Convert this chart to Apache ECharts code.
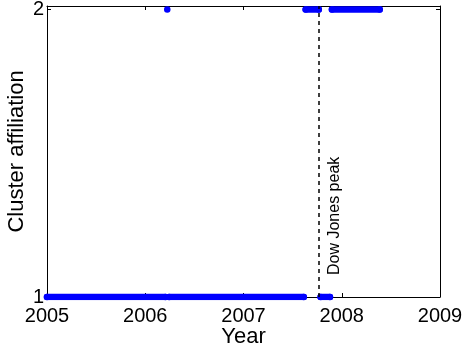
<!DOCTYPE html>
<html>
<head>
<meta charset="utf-8">
<script src="https://cdn.jsdelivr.net/npm/echarts@6/dist/echarts.min.js"></script>
<style>
  html, body { margin: 0; padding: 0; background: #fff; }
  #chart { width: 462px; height: 351px; }
</style>
</head>
<body>
<div id="chart"></div>
<script>
// Runs of consecutive weeks assigned to each cluster (decimal years)
const cluster1Starts = [2005.0, 2006.243, 2007.785];
const cluster1Ends   = [2006.205, 2007.613, 2007.88];
const cluster2Starts = [2006.224, 2007.633, 2007.90];
const cluster2Ends   = [2006.224, 2007.766, 2008.386];

// Dow Jones Industrial Average all-time high, 9 Oct 2007
const peakYear = 2007.77;
const peakLabel = 'Dow Jones peak';

const yearTicks = [2005, 2006, 2007, 2008, 2009];
const clusterTicks = [1, 2];

const FONT = 'Liberation Sans, Arial, Helvetica, sans-serif';
const BLUE = '#0000ff';

function runSeries(starts, ends, cluster) {
  return starts.map((s, i) => {
    const pts = s === ends[i] ? [[s, cluster]] : [[s, cluster], [ends[i], cluster]];
    return {
      type: 'line',
      data: pts,
      symbol: 'circle',
      symbolSize: 6.5,
      showAllSymbol: true,
      itemStyle: { color: BLUE, borderWidth: 0 },
      lineStyle: { color: BLUE, width: 6.5, cap: 'round' },
      silent: true,
      z: 3
    };
  });
}

const series = []
  .concat(runSeries(cluster1Starts, cluster1Ends, 1))
  .concat(runSeries(cluster2Starts, cluster2Ends, 2));

// dashed vertical marker at the market peak
series.push({
  type: 'line',
  data: [],
  markLine: {
    silent: true,
    symbol: 'none',
    label: { show: false },
    lineStyle: { color: '#000', type: [4, 4], width: 1.5 },
    data: [{ xAxis: peakYear }]
  },
  z: 2
});

const axisLineStyle = { show: true, lineStyle: { color: '#000', width: 1 } };
const tickStyle = { show: true, inside: true, length: 4, lineStyle: { color: '#000', width: 1 } };

const chart = echarts.init(document.getElementById('chart'), null, { renderer: 'canvas' });

chart.setOption({
  animation: false,
  backgroundColor: '#fff',
  grid: { left: 47, right: 22, top: 6, bottom: 54, containLabel: false, outerBoundsMode: 'none' },
  xAxis: [
    {
      type: 'value',
      min: yearTicks[0],
      max: yearTicks[yearTicks.length - 1],
      interval: 1,
      position: 'bottom',
      name: 'Year',
      nameLocation: 'middle',
      nameGap: 29,
      nameMoveOverlap: false,
      nameTextStyle: { fontFamily: FONT, fontSize: 22, color: '#000' },
      axisLine: axisLineStyle,
      axisTick: tickStyle,
      axisLabel: { fontFamily: FONT, fontSize: 20, color: '#000', margin: 9, formatter: v => String(v) },
      splitLine: { show: false }
    },
    {
      type: 'value',
      min: yearTicks[0],
      max: yearTicks[yearTicks.length - 1],
      interval: 1,
      position: 'top',
      axisLine: axisLineStyle,
      axisTick: tickStyle,
      axisLabel: { show: false },
      splitLine: { show: false }
    }
  ],
  yAxis: [
    {
      type: 'value',
      min: 1,
      max: 2.012,
      interval: 1,
      position: 'left',
      name: 'Cluster affiliation',
      nameLocation: 'middle',
      nameGap: 19,
      nameMoveOverlap: false,
      nameTextStyle: { fontFamily: FONT, fontSize: 22, color: '#000' },
      axisLine: axisLineStyle,
      axisTick: Object.assign({ customValues: clusterTicks }, tickStyle),
      axisLabel: {
        customValues: clusterTicks,
        fontFamily: FONT, fontSize: 20, color: '#000', margin: 3,
        formatter: v => (Number.isInteger(v) ? String(v) : '')
      },
      splitLine: { show: false }
    },
    {
      type: 'value',
      min: 1,
      max: 2.012,
      interval: 1,
      position: 'right',
      axisLine: axisLineStyle,
      axisTick: Object.assign({ customValues: clusterTicks }, tickStyle),
      axisLabel: { show: false },
      splitLine: { show: false }
    }
  ],
  series: series
});

// annotation text running up alongside the peak marker
const anchor = chart.convertToPixel({ xAxisIndex: 0, yAxisIndex: 0 }, [peakYear, 1]);
chart.setOption({
  graphic: [{
    type: 'text',
    x: anchor[0] + 15,
    y: anchor[1] - 22,
    rotation: Math.PI / 2,
    silent: true,
    style: {
      text: peakLabel,
      font: '16px ' + FONT,
      fill: '#000',
      textAlign: 'left',
      textVerticalAlign: 'middle'
    }
  }]
});
</script>
</body>
</html>
